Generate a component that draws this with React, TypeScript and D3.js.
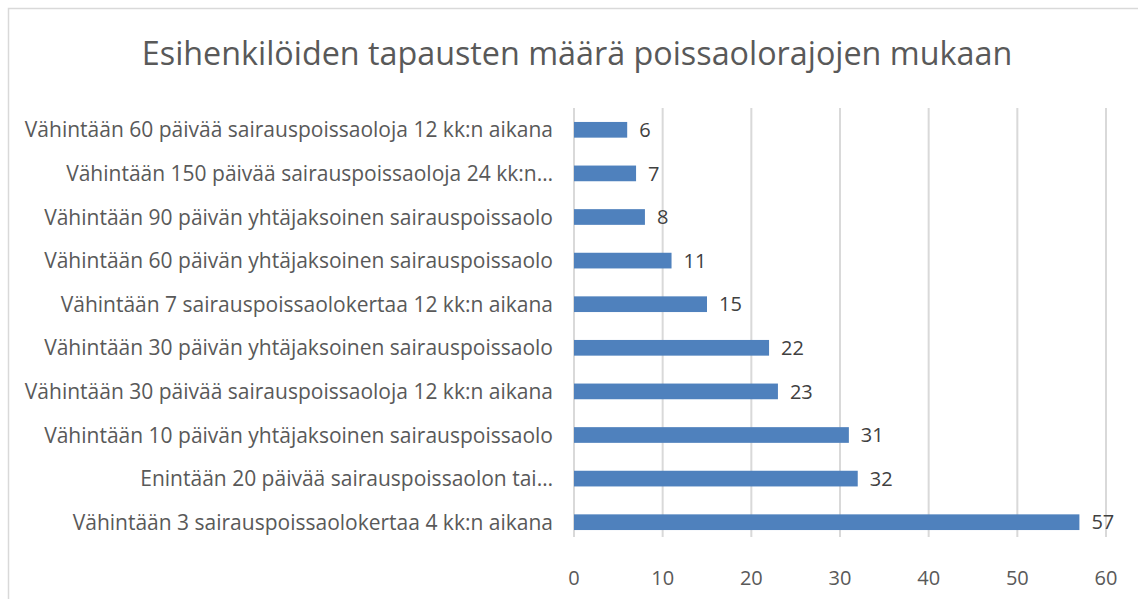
import React, { useEffect, useRef } from "react";
import * as d3 from "d3";

const title = "Esihenkilöiden tapausten määrä poissaolorajojen mukaan";

// top to bottom as shown
const categories = [
  "Vähintään 60 päivää sairauspoissaoloja 12 kk:n aikana",
  "Vähintään 150 päivää sairauspoissaoloja 24 kk:n…",
  "Vähintään 90 päivän yhtäjaksoinen sairauspoissaolo",
  "Vähintään 60 päivän yhtäjaksoinen sairauspoissaolo",
  "Vähintään 7 sairauspoissaolokertaa 12 kk:n aikana",
  "Vähintään 30 päivän yhtäjaksoinen sairauspoissaolo",
  "Vähintään 30 päivää sairauspoissaoloja 12 kk:n aikana",
  "Vähintään 10 päivän yhtäjaksoinen sairauspoissaolo",
  "Enintään 20 päivää sairauspoissaolon tai…",
  "Vähintään 3 sairauspoissaolokertaa 4 kk:n aikana",
];
const values = [6, 7, 8, 11, 15, 22, 23, 31, 32, 57];
const xTicks = [0, 10, 20, 30, 40, 50, 60];

const FONT = "'Open Sans', sans-serif";

export default function App() {
  const ref = useRef<SVGSVGElement>(null);

  useEffect(() => {
    const svg = d3.select(ref.current);
    svg.selectAll("*").remove();

    const width = 1138;
    const height = 599;
    const plot = { left: 574, right: 1106, top: 108, bottom: 544 };

    svg.append("rect")
      .attr("width", width).attr("height", height).attr("fill", "#fff");

    // chart border (right / bottom edges run off the picture)
    svg.append("rect")
      .attr("x", 8.5).attr("y", 8.5)
      .attr("width", 1140).attr("height", 600)
      .attr("fill", "none").attr("stroke", "#d9d9d9").attr("stroke-width", 1.5);

    svg.append("text")
      .attr("x", 577).attr("y", 65)
      .attr("text-anchor", "middle")
      .attr("font-family", FONT).attr("font-size", 32.3)
      .attr("fill", "#595959")
      .text(title);

    const x = d3.scaleLinear().domain([0, 60]).range([plot.left, plot.right]);
    const y = d3.scaleBand()
      .domain(categories)
      .range([plot.top, plot.bottom])
      .paddingInner(0.64)
      .paddingOuter(0.32);

    //gridlines
    svg.append("g").selectAll("line")
      .data(xTicks)
      .join("line")
      .attr("x1", d => x(d)).attr("x2", d => x(d))
      .attr("y1", plot.top).attr("y2", plot.bottom - 7)
      .attr("stroke", "#d9d9d9").attr("stroke-width", 2);

    svg.append("g").selectAll("text")
      .data(xTicks)
      .join("text")
      .attr("x", d => x(d)).attr("y", 585)
      .attr("text-anchor", "middle")
      .attr("font-family", FONT).attr("font-size", 20)
      .attr("fill", "#595959")
      .text(d => d);

    const rows = categories.map((c, i) => ({ c, v: values[i] }));

    svg.append("g").selectAll("rect")
      .data(rows)
      .join("rect")
      .attr("x", x(0)).attr("y", d => y(d.c)!)
      .attr("width", d => x(d.v) - x(0))
      .attr("height", y.bandwidth())
      .attr("fill", "#4f81bd");

    svg.append("g").selectAll("text")
      .data(rows)
      .join("text")
      .attr("x", d => x(d.v) + 12)
      .attr("y", d => y(d.c)! + y.bandwidth() / 2)
      .attr("dy", "0.36em")
      .attr("font-family", FONT).attr("font-size", 20)
      .attr("fill", "#404040")
      .text(d => d.v);

    svg.append("g").selectAll("text")
      .data(rows)
      .join("text")
      .attr("x", 553)
      .attr("y", d => y(d.c)! + y.bandwidth() / 2)
      .attr("dy", "0.36em")
      .attr("text-anchor", "end")
      .attr("font-family", FONT).attr("font-size", 21)
      .attr("fill", "#595959")
      .text(d => d.c);
  }, []);

  return (
    <svg
      ref={ref}
      width={1138}
      height={599}
      style={{ position: "absolute", left: 0, top: 0 }}
    />
  );
}
